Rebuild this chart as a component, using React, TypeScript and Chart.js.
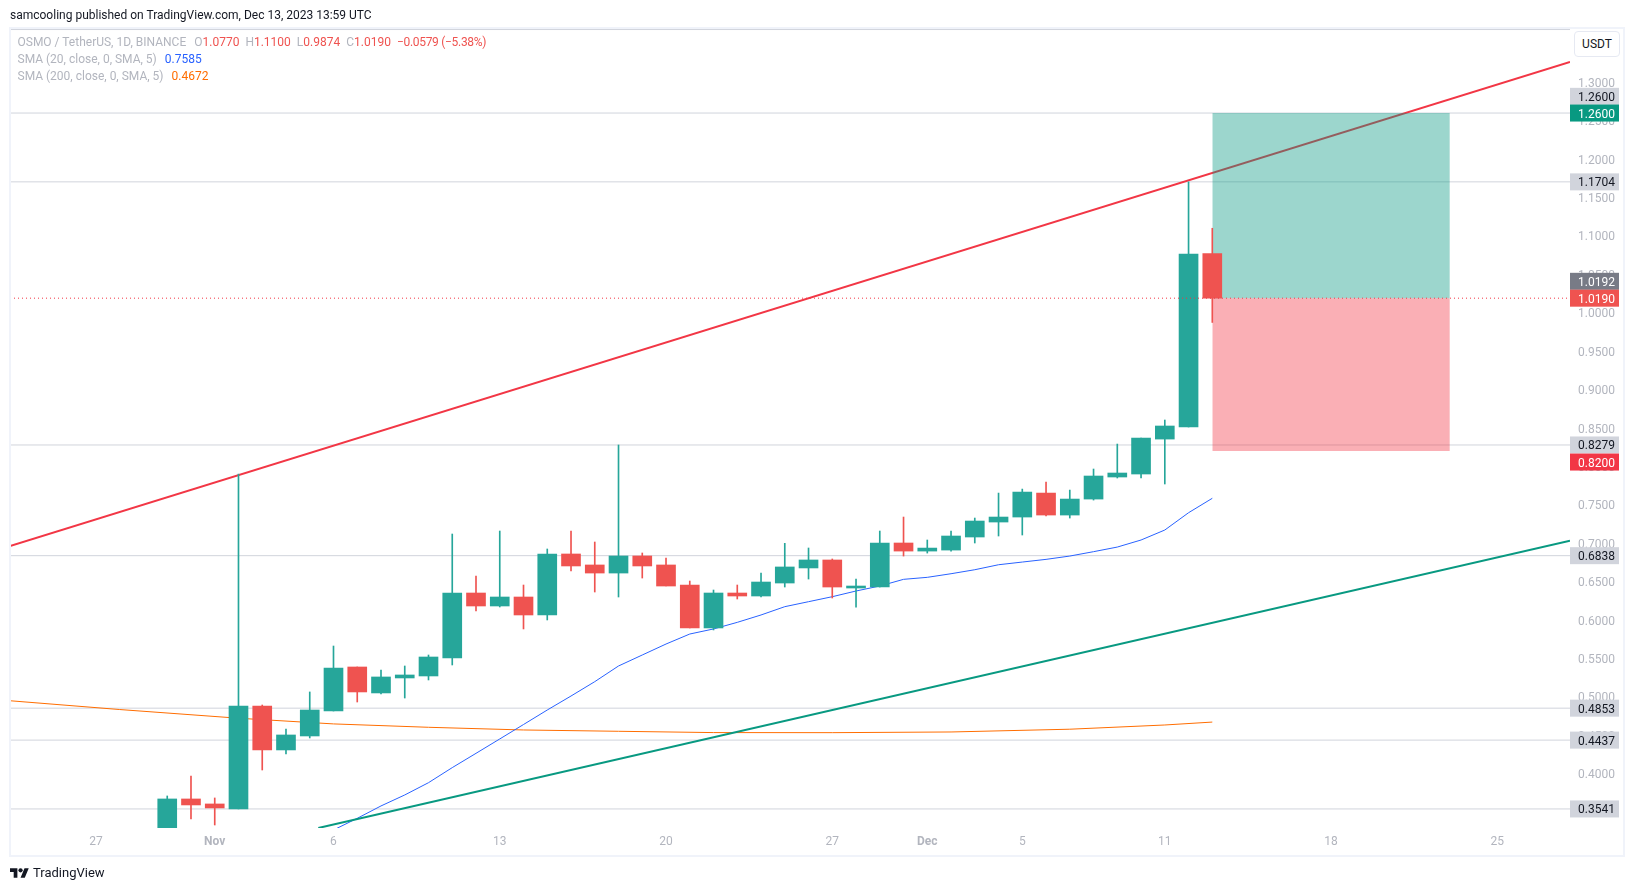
import { useEffect, useRef } from 'react';
import { Chart, registerables } from 'chart.js';

Chart.register(...registerables);

// day index: 0 = Oct 30 2023, 44 = Dec 13 2023
const candleDays = [0, 1, 2, 3, 4, 5, 6, 7, 8, 9, 10, 11, 12, 13, 14, 15, 16, 17, 18, 19, 20, 21, 22, 23, 24, 25, 26, 27, 28, 29, 30, 31, 32, 33, 34, 35, 36, 37, 38, 39, 40, 41, 42, 43, 44];
const opens = [0.32, 0.3671, 0.3606, 0.3541, 0.4881, 0.4309, 0.4491, 0.4816, 0.5389, 0.5051, 0.5246, 0.5272, 0.5506, 0.6352, 0.6183, 0.63, 0.6066, 0.686, 0.6717, 0.6612, 0.6834, 0.6717, 0.6456, 0.5897, 0.6352, 0.6313, 0.6482, 0.6678, 0.6782, 0.6417, 0.643, 0.7003, 0.6898, 0.6911, 0.7081, 0.7276, 0.7341, 0.7653, 0.7367, 0.7575, 0.7862, 0.7901, 0.8356, 0.8513, 1.077];
const highs = [0.371, 0.397, 0.3684, 0.7901, 0.4894, 0.4582, 0.5064, 0.5662, 0.5389, 0.535, 0.5402, 0.5545, 0.712, 0.6574, 0.7159, 0.6456, 0.6925, 0.7159, 0.7016, 0.8279, 0.6873, 0.6808, 0.6508, 0.6391, 0.6456, 0.6612, 0.6999, 0.6938, 0.6795, 0.6534, 0.7159, 0.7341, 0.7042, 0.7159, 0.7328, 0.7653, 0.7705, 0.7797, 0.7692, 0.7966, 0.8291, 0.8369, 0.8604, 1.1704, 1.11];
const lows = [0.31, 0.341, 0.3332, 0.3541, 0.4048, 0.4257, 0.4465, 0.4816, 0.4933, 0.5037, 0.4985, 0.522, 0.5415, 0.6118, 0.617, 0.5884, 0.6001, 0.6639, 0.6365, 0.63, 0.6547, 0.6443, 0.5897, 0.5871, 0.6274, 0.63, 0.643, 0.6534, 0.6287, 0.6169, 0.643, 0.6833, 0.6872, 0.6898, 0.7003, 0.7094, 0.7107, 0.7354, 0.7328, 0.7562, 0.7849, 0.7849, 0.7771, 0.8513, 0.9874];
const closes = [0.3671, 0.3593, 0.3554, 0.4881, 0.4309, 0.4504, 0.4829, 0.5376, 0.5064, 0.5259, 0.5285, 0.5519, 0.6352, 0.6183, 0.63, 0.6066, 0.686, 0.6704, 0.6612, 0.6834, 0.6704, 0.6443, 0.5897, 0.6352, 0.6313, 0.6495, 0.6691, 0.6782, 0.643, 0.6443, 0.7003, 0.6898, 0.6937, 0.7094, 0.7289, 0.7341, 0.7666, 0.7367, 0.7575, 0.7875, 0.7914, 0.8369, 0.8526, 1.0765, 1.019];

const sma20Days = [7, 8, 9, 10, 11, 12, 13, 14, 15, 16, 17, 18, 19, 20, 21, 22, 23, 24, 25, 26, 27, 28, 29, 30, 31, 32, 33, 34, 35, 36, 37, 38, 39, 40, 41, 42, 43, 44];
const sma20 = [0.3267, 0.3419, 0.358, 0.3723, 0.3883, 0.4079, 0.4265, 0.4452, 0.464, 0.4829, 0.5011, 0.5198, 0.5402, 0.5545, 0.5688, 0.5818, 0.5884, 0.597, 0.6066, 0.6174, 0.6239, 0.6304, 0.6378, 0.6443, 0.653, 0.6556, 0.6603, 0.6655, 0.672, 0.6755, 0.679, 0.6833, 0.689, 0.695, 0.7042, 0.7172, 0.7397, 0.7585];

const sma200Days = [-7, -2, 3, 7, 11, 15, 19, 23, 28, 33, 38, 42, 44];
const sma200 = [0.4959, 0.4835, 0.4722, 0.4648, 0.4604, 0.4569, 0.4552, 0.4535, 0.4534, 0.4543, 0.4579, 0.4634, 0.4672];

const hLevels = [1.3687, 1.26, 1.1704, 0.8279, 0.6838, 0.4853, 0.4437, 0.3541];
const lastPrice = 1.019;

const redTrendDays = [-6.62, 59.06];
const redTrend = [0.6964, 1.3264];
const greenTrendDays = [6.36, 59.06];
const greenTrend = [0.3293, 0.7033];

const boxDays = [44, 54];
const boxEntry = 1.019;
const boxTarget = 1.26;
const boxStop = 0.82;

const yTicks = [1.3, 1.25, 1.2, 1.15, 1.1, 1.05, 1.0, 0.95, 0.9, 0.85, 0.8, 0.75, 0.7, 0.65, 0.6, 0.55, 0.5, 0.45, 0.4, 0.35];
const xTickDays = [-3, 2, 7, 14, 21, 28, 32, 36, 42, 49, 56];
const xTickLabels = ['27', 'Nov', '6', '13', '20', '27', 'Dec', '5', '11', '18', '25'];

const tagPrices = [1.26, 1.26, 1.1704, 1.0192, 1.019, 0.8279, 0.82, 0.6838, 0.4853, 0.4437, 0.3541];
const tagBg = ['#d1d4dc', '#089981', '#d1d4dc', '#787b86', '#ef5350', '#d1d4dc', '#f23645', '#d1d4dc', '#d1d4dc', '#d1d4dc', '#d1d4dc'];
const tagFg = ['#131722', '#ffffff', '#131722', '#ffffff', '#ffffff', '#131722', '#ffffff', '#131722', '#131722', '#131722', '#131722'];
const tagNudge = [-16.7, 0, 0, -16.7, 0, 0, 11, 0, 0, 0, 0];

const UP = '#26a69a';
const DOWN = '#ef5350';
const FONT = 'Roboto';

const pairs = (xs: number[], ys: number[]) => xs.map((x, i) => ({ x, y: ys[i] }));
const candleColors = candleDays.map((_, i) => (closes[i] >= opens[i] ? UP : DOWN));

// the coloured and grey price tags that sit over the right axis
const priceTagPlugin = {
  id: 'priceTags',
  afterDraw(chart: any) {
    const { ctx, scales } = chart;
    ctx.save();
    ctx.font = `12px ${FONT}`;
    ctx.textBaseline = 'middle';
    ctx.textAlign = 'left';
    tagPrices.forEach((price, i) => {
      const y = scales.y.getPixelForValue(price) + tagNudge[i];
      ctx.fillStyle = tagBg[i];
      ctx.fillRect(1570, y - 8.5, 49, 17);
      ctx.fillStyle = tagFg[i];
      ctx.fillText(price.toFixed(4), 1578, y + 1.5);
    });
    ctx.restore();
  },
};

function lineSet(data: { x: number; y: number }[], color: string, width: number, extra: object = {}) {
  return {
    type: 'line' as const,
    data,
    borderColor: color,
    borderWidth: width,
    pointRadius: 0,
    tension: 0,
    ...extra,
  };
}

export default function App() {
  const chartRef = useRef<HTMLCanvasElement>(null);

  useEffect(() => {
    if (!chartRef.current) return;

    const chart = new Chart(chartRef.current, {
      type: 'bar',
      plugins: [priceTagPlugin],
      data: {
        // first dataset ends up on top
        datasets: [
          lineSet(pairs([-6.62, 59.06], [lastPrice, lastPrice]), '#f23645', 1, { borderDash: [1, 3] }),
          {
            type: 'bar',
            data: candleDays.map((x, i) => ({ x, y: [opens[i], closes[i]] })),
            backgroundColor: candleColors,
            barThickness: 19,
            grouped: false,
          },
          {
            type: 'bar',
            data: candleDays.map((x, i) => ({ x, y: [lows[i], highs[i]] })),
            backgroundColor: candleColors,
            barThickness: 1,
            grouped: false,
          },
          lineSet(pairs(boxDays, [boxTarget, boxTarget]), 'transparent', 0, {
            fill: { value: boxEntry },
            backgroundColor: 'rgba(8, 153, 129, 0.4)',
          }),
          lineSet(pairs(boxDays, [boxStop, boxStop]), 'transparent', 0, {
            fill: { value: boxEntry },
            backgroundColor: 'rgba(242, 54, 69, 0.4)',
          }),
          lineSet(pairs(redTrendDays, redTrend), '#f23645', 2),
          lineSet(pairs(greenTrendDays, greenTrend), '#089981', 2),
          lineSet(pairs(sma20Days, sma20), '#2962ff', 1),
          lineSet(pairs(sma200Days, sma200), '#ff6d00', 1),
          ...hLevels.map(level => lineSet(pairs([-6.62, 59.06], [level, level]), '#d1d4dc', 1)),
        ] as any,
      },
      options: {
        responsive: false,
        animation: false,
        events: [],
        layout: { padding: { left: 10, top: 29, right: 10, bottom: 35 } },
        plugins: { legend: { display: false }, tooltip: { enabled: false } },
        scales: {
          x: {
            type: 'linear',
            offset: false,
            min: -6.62,
            max: 59.06,
            grid: { display: false, drawTicks: false },
            border: { display: false },
            afterFit: (scale: any) => { scale.height = 28; },
            afterBuildTicks: (scale: any) => { scale.ticks = xTickDays.map(value => ({ value })); },
            ticks: {
              autoSkip: false,
              maxRotation: 0,
              padding: 7,
              color: '#b2b5be',
              font: (ctx: any) => ({
                family: FONT,
                size: 12,
                weight: ['Nov', 'Dec'].includes(xTickLabels[ctx.index]) ? 'bold' : 'normal',
              }),
              callback: (value: any) => xTickLabels[xTickDays.indexOf(Number(value))],
            },
          },
          y: {
            type: 'linear',
            position: 'right',
            min: 0.3293,
            max: 1.3694,
            grid: { display: false, drawTicks: false },
            border: { display: false },
            afterFit: (scale: any) => { scale.width = 54; },
            afterBuildTicks: (scale: any) => { scale.ticks = yTicks.map(value => ({ value })); },
            ticks: {
              padding: 8,
              labelOffset: 1.5,
              color: '#b2b5be',
              font: { family: FONT, size: 12 },
              callback: (value: any) => Number(value).toFixed(4),
            },
          },
        },
      } as any,
    });

    return () => chart.destroy();
  }, []);

  const text = { position: 'absolute', whiteSpace: 'pre', font: `12px/16px ${FONT}` } as const;
  const grey = '#b2b5be';

  return (
    <div style={{ position: 'absolute', left: 0, top: 0, width: 1634, height: 891, background: '#fff', overflow: 'hidden' }}>
      <canvas ref={chartRef} width={1634} height={891} style={{ position: 'absolute', left: 0, top: 0 }} />
      <div style={{ position: 'absolute', left: 9, top: 27, width: 1616, height: 830, boxSizing: 'border-box', border: '2px solid #f0f3fa' }} />

      <div style={{ ...text, left: 10, top: 7, color: '#131722' }}>samcooling published on TradingView.com, Dec 13, 2023 13:59 UTC</div>

      <div style={{ ...text, left: 17.5, top: 34, color: grey }}>
        OSMO / TetherUS, 1D, BINANCE
        <span style={{ marginLeft: 8 }}>O</span><span style={{ color: DOWN }}>1.0770</span>
        <span style={{ marginLeft: 6 }}>H</span><span style={{ color: DOWN }}>1.1100</span>
        <span style={{ marginLeft: 6 }}>L</span><span style={{ color: DOWN }}>0.9874</span>
        <span style={{ marginLeft: 6 }}>C</span><span style={{ color: DOWN }}>1.0190</span>
        <span style={{ marginLeft: 6, color: DOWN, letterSpacing: -0.3 }}>−0.0579 (−5.38%)</span>
      </div>
      <div style={{ ...text, left: 17.5, top: 51, color: grey }}>
        SMA (20, close, 0, SMA, 5)<span style={{ marginLeft: 8, color: '#2962ff' }}>0.7585</span>
      </div>
      <div style={{ ...text, left: 17.5, top: 68, color: grey }}>
        SMA (200, close, 0, SMA, 5)<span style={{ marginLeft: 8, color: '#ff6d00' }}>0.4672</span>
      </div>

      <div style={{ ...text, left: 1574, top: 31, width: 46, height: 26, boxSizing: 'border-box', lineHeight: '24px', textAlign: 'center', border: '1px solid #e6e9f2', borderRadius: 4, color: '#131722', background: '#fff' }}>USDT</div>

      <svg width={19} height={15} viewBox="0 0 36 28" style={{ position: 'absolute', left: 10, top: 866 }}>
        <path d="M14 22H7V11H0V4h14v18zM28 22h-8l7.5-18h8L28 22z" fill="#131722" />
        <circle cx={20} cy={8} r={4} fill="#131722" />
      </svg>
      <div style={{ ...text, left: 33, top: 865, color: '#131722', fontSize: 13 }}>TradingView</div>
    </div>
  );
}
